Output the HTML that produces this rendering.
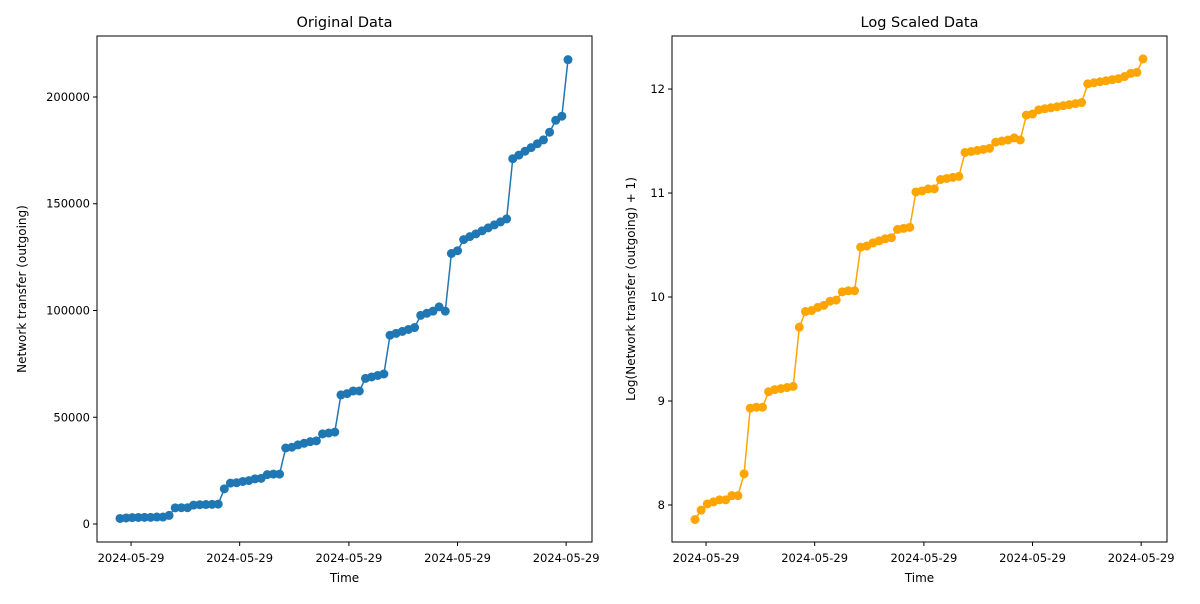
<!DOCTYPE html>
<html><head><meta charset="utf-8"><style>
body{margin:0;background:#fff;font-family:"DejaVu Sans","Liberation Sans",sans-serif}
text{font-family:"DejaVu Sans","Liberation Sans",sans-serif}
</style></head><body>
<svg id="chart" width="1200" height="600" xmlns="http://www.w3.org/2000/svg"></svg>
<script>
const values=[2590,2835,3010,3070,3130,3130,3260,3260,4020,7560,7630,7630,8860,9040,9130,9220,9320,16480,19150,19340,19930,20330,21150,21380,23150,23390,23390,35600,35960,37050,37800,38560,38950,42190,42610,43040,60470,61080,62310,62310,68180,68860,69560,70260,88420,89310,90210,91110,92030,97720,98700,99690,101700,99690,126700,128000,133200,134600,135900,137300,138700,140100,141500,142900,171100,172800,174600,176300,178100,179900,183500,189100,191000,217500];
const leftYTicks=[0,50000,100000,150000,200000];
const rightYTicks=[8,9,10,11,12];
const xTickPos=[1.8,19.5,37.3,55.0,72.7];
const xTickLabels=["2024-05-29","2024-05-29","2024-05-29","2024-05-29","2024-05-29"];
const NS="http://www.w3.org/2000/svg";
const svg=document.getElementById('chart');
function mk(tag,attrs,parent){const e=document.createElementNS(NS,tag);for(const k in attrs)e.setAttribute(k,attrs[k]);(parent||svg).appendChild(e);return e;}
function panel(cfg){
  const g=mk('g',{});
  
  
  const {x0,x1,y0,y1}=cfg;
  const n=cfg.data.length;
  const px0=x0+23, px1=x1-24;
  const xs=i=>px0+(px1-px0)*i/(n-1);
  const ys=v=>y1-(v-cfg.ymin)/(cfg.ymax-cfg.ymin)*(y1-y0);
  cfg.yticks.forEach(t=>{
    const y=ys(t);
    mk('line',{x1:x0-4,x2:x0,y1:y,y2:y,stroke:'#000','stroke-width':1},g);
    const tx=mk('text',{x:x0-7,y:y+4,'text-anchor':'end','font-size':11.5,fill:'#000'},g);
    
    
    tx.textContent=cfg.fmt(t);
  });
  xTickPos.forEach((p,i)=>{
    const x=xs(p);
    mk('line',{x1:x,x2:x,y1:y1,y2:y1+4,stroke:'#000','stroke-width':1},g);
    const tx=mk('text',{x:x,y:y1+20,'text-anchor':'middle','font-size':11.5,fill:'#000'},g);
    
    
    tx.textContent=xTickLabels[i];
  });
  const pts=cfg.data.map((v,i)=>xs(i).toFixed(2)+','+ys(v).toFixed(2)).join(' ');
  const pl=mk('polyline',{points:pts,fill:'none',stroke:cfg.color,'stroke-width':1.5},g);
  
  
  cfg.data.forEach((v,i)=>{
    const c=mk('circle',{cx:xs(i),cy:ys(v),r:4.5,fill:cfg.color},g);
    
    
  });
  mk('rect',{x:x0,y:y0,width:x1-x0,height:y1-y0,fill:'none',stroke:'#000','stroke-width':1},g);
  const ti=mk('text',{x:(x0+x1)/2,y:27,'text-anchor':'middle','font-size':14.5,fill:'#000'},g);
  
  
  ti.textContent=cfg.title;
  const xl=mk('text',{x:(x0+x1)/2,y:582,'text-anchor':'middle','font-size':12,fill:'#000'},g);
  
  
  xl.textContent='Time';
  const yl=mk('text',{x:cfg.ylx,y:(y0+y1)/2,'text-anchor':'middle','font-size':12,fill:'#000',transform:`rotate(-90 ${cfg.ylx} ${(y0+y1)/2})`},g);
  
  
  yl.textContent=cfg.ylabel;
}
panel({name:'original-data-panel',x0:97,x1:592,y0:36,y1:542,ymin:-8430,ymax:228570,data:values,yticks:leftYTicks,fmt:t=>String(t),color:'#1f77b4',title:'Original Data',ylabel:'Network transfer (outgoing)',ylx:26});
const logValues=values.map(v=>Math.log(v+1));
panel({name:'log-scaled-panel',x0:672,x1:1167,y0:36,y1:542,ymin:7.644,ymax:12.51,data:logValues,yticks:rightYTicks,fmt:t=>String(t),color:'#ffa500',title:'Log Scaled Data',ylabel:'Log(Network transfer (outgoing) + 1)',ylx:635});
</script>
</body></html>
